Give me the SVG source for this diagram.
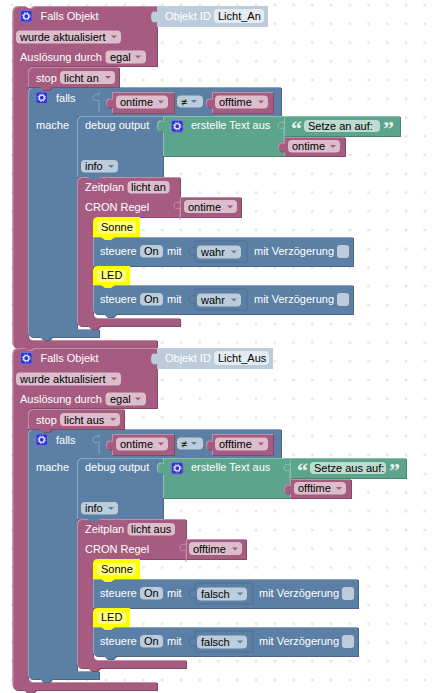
<svg xmlns="http://www.w3.org/2000/svg" xmlns:xlink="http://www.w3.org/1999/xlink" width="435" height="693" viewBox="0 0 435 693">
<style>
text{font-family:"Liberation Sans",Arial,sans-serif;font-size:11px}
.t{fill:#fff}.k{fill:#000}
.p{fill:#a55b80}.b{fill:#5b80a5}.g{fill:#5ba58c}.s{fill:#bdccdb}.y{fill:#ff0}
.fp{fill:#dbbdcc}.fb{fill:#bdccdb}.fg{fill:#bddbd1}.fs{fill:#e4ebf1}.fy{fill:#ffff80}
.sp{filter:url(#dp)}.sb{filter:url(#db)}.sg{filter:url(#dg)}
.ap{fill:#a55b80}.ab{fill:#5b80a5}
.q{font-family:"Liberation Serif",serif;font-size:22px;font-weight:bold;fill:#e4f2ed}
</style>
<defs>
<pattern id="grid" x="12.3" y="5" width="18.75" height="18.75" patternUnits="userSpaceOnUse"><path d="M-1.5 0H1.5M0 -1.5V1.5M17.25 0H20.25M18.75 -1.5V1.5M-1.5 18.75H1.5M0 17.25V20.25M17.25 18.75H20.25M18.75 17.25V20.25" stroke="#ddd" stroke-width="1" fill="none"/></pattern>
<filter id="dp" x="-5%" y="-5%" width="110%" height="110%"><feOffset in="SourceAlpha" dx=".7" dy=".8" result="o"/><feFlood flood-color="#844966"/><feComposite in2="o" operator="in" result="sh"/><feComposite in="SourceAlpha" in2="o" operator="out" result="e"/><feFlood flood-color="#c08fa8"/><feComposite in2="e" operator="in" result="hl"/><feMerge><feMergeNode in="sh"/><feMergeNode in="SourceGraphic"/><feMergeNode in="hl"/></feMerge></filter>
<filter id="db" x="-5%" y="-5%" width="110%" height="110%"><feOffset in="SourceAlpha" dx=".7" dy=".8" result="o"/><feFlood flood-color="#496684"/><feComposite in2="o" operator="in" result="sh"/><feComposite in="SourceAlpha" in2="o" operator="out" result="e"/><feFlood flood-color="#8aa5c0"/><feComposite in2="e" operator="in" result="hl"/><feMerge><feMergeNode in="sh"/><feMergeNode in="SourceGraphic"/><feMergeNode in="hl"/></feMerge></filter>
<filter id="dg" x="-5%" y="-5%" width="110%" height="110%"><feOffset in="SourceAlpha" dx=".7" dy=".8" result="o"/><feFlood flood-color="#498470"/><feComposite in2="o" operator="in" result="sh"/><feComposite in="SourceAlpha" in2="o" operator="out" result="e"/><feFlood flood-color="#8cc0ae"/><feComposite in2="e" operator="in" result="hl"/><feMerge><feMergeNode in="sh"/><feMergeNode in="SourceGraphic"/><feMergeNode in="hl"/></feMerge></filter>
<g id="gear"><rect x="0.5" y="0.5" width="11.5" height="11.5" rx="2" fill="#3333cc" stroke="#6f6fe0"/><circle cx="6.25" cy="6.25" r="2.6" fill="none" stroke="#dfe6f5" stroke-width="1.4"/><circle cx="6.25" cy="6.25" r="3.8" fill="none" stroke="#dfe6f5" stroke-width="0.9" stroke-dasharray="1.5 1.5"/></g>
<path id="ap" class="ap" d="M0 0H6L3 3Z"/>
<path id="ab" class="ab" d="M0 0H6L3 3Z"/>
<path id="tab" d="M6 0V3Q0 1 0 5.5Q0 10 6 8V20" fill="none" stroke-width="1"/>
</defs>
<rect width="435" height="693" fill="#fff"/>
<rect width="435" height="693" fill="url(#grid)"/>
<g id="connectors"></g>

<g id="event-an">
<path class="p sp" d="M12.5 12Q12.5 6 18.5 6H25L28 8H31L34 6H157V66H33Q28 66 28 71V335Q28 340 33 340H157V348H36L33 351H27L24 348H18Q12.5 348 12.5 342Z"/>
<use xlink:href="#gear" href="#gear" x="20" y="10"/>
<text class="t" x="40.5" y="20">Falls Objekt</text>
<rect class="fp" x="16" y="30.5" width="105" height="13" rx="4"/><text class="k" x="20" y="40.500">wurde aktualisiert</text><use href="#ap" x="111" y="35.5"/>
<text class="t" x="20" y="60.5">Auslösung durch</text>
<rect class="fp" x="105.5" y="50.5" width="40.5" height="13" rx="4"/><text class="k" x="110" y="60.5">egal</text><use href="#ap" x="135" y="55.5"/>
</g>
<g id="objekt-an">
<path class="s" d="M157 6H268V27H157V22Q151 24 151 17Q151 10 157 12Z"/>
<text class="t" x="165" y="20">Objekt ID</text>
<rect class="fs" x="214" y="9" width="50" height="14" rx="4"/><text class="k" x="218" y="20">Licht_An</text>
</g>
<g id="falls-an">
<path class="b sb" d="M33 87H281V116H77V329H99V337H52L49 340H43L40 337H33Q28 337 28 332V92Q28 87 33 87Z"/>
<use href="#gear" x="35.5" y="91.5"/>
<text class="t" x="56" y="101.500">falls</text>
<text class="t" x="36" y="129">mache</text>
<use href="#tab" x="93" y="92" stroke="#8aa5c0"/>
</g>
<g id="stop-an">
<path class="p sp" d="M33 67H119V87H52L49 90H43L40 87H28V72Q28 67 33 67Z"/>
<text class="t" x="36" y="81.500">stop</text>
<rect class="fp" x="60" y="71" width="55" height="13" rx="4"/><text class="k" x="64" y="81.5">licht an</text><use href="#ap" x="105" y="76"/>
</g>
<g id="cmp-an">
<path class="p sp" d="M112 92H174V113H112V107Q106 109 106 103Q106 97 112 99Z"/>
<rect class="fp" x="116" y="95.5" width="52" height="13" rx="4"/><text class="k" x="120" y="105.5">ontime</text><use href="#ap" x="158" y="100.5"/>
<rect class="fb" x="177" y="95.5" width="26" height="12" rx="4"/><text class="k" x="181" y="105.5">≠</text><use href="#ab" x="191" y="100"/>
<path class="p sp" d="M212 92H273V113H212V107Q206 109 206 103Q206 97 212 99Z"/>
<rect class="fp" x="215" y="95.5" width="53" height="13" rx="4"/><text class="k" x="219" y="105.5">offtime</text><use href="#ap" x="258" y="100.5"/>
</g>
<g id="debug-an">
<path class="b sb" d="M82 116H163V177H100L97 180H91L88 177H77V121Q77 116 82 116Z"/>
<text class="t" x="85" y="129">debug output</text>
<rect class="fb" x="81" y="160" width="37" height="12.5" rx="4"/><text class="k" x="85" y="170">info</text><use href="#ab" x="108" y="165"/>
</g>
<g id="text-an">
<path class="g sg" d="M163 116H284V156H163V131Q157 133 157 126Q157 119 163 121Z"/>
<use href="#gear" x="171" y="120"/>
<text class="t" x="191" y="129">erstelle Text aus</text>
<use href="#tab" x="278" y="120" stroke="#8cc0ae"/>
</g>
<g id="string-an">
<path class="g sg" d="M284 116H400V136H284Z"/>
<text class="q" x="291" y="136">“</text>
<rect class="fg" x="304" y="120" width="76" height="12" rx="4"/><text class="k" x="308" y="130">Setze an auf:</text>
<text class="q" x="383" y="136">”</text>
</g>
<g id="ontime-an">
<path class="p sp" d="M284 137H345V156H284V151Q278 153 278 147Q278 141 284 143Z"/>
<rect class="fp" x="288" y="140" width="52" height="12.5" rx="4"/><text class="k" x="292" y="150">ontime</text><use href="#ap" x="330" y="145"/>
</g>
<g id="zeitplan-an">
<path class="p sp" d="M82 177H180V217H98Q93 217 93 222V313Q93 318 98 318H180V326H100L97 329H91L88 326H82Q77 326 77 321V182Q77 177 82 177Z"/>
<path class="b" d="M88 177H100L97 180H91Z"/>
<text class="t" x="85" y="190.500">Zeitplan</text>
<rect class="fp" x="127.5" y="181" width="42" height="12.5" rx="4"/><text class="k" x="131" y="190.500">licht an</text>
<text class="t" x="85" y="210.500">CRON Regel</text>
<use href="#tab" x="174" y="200" stroke="#c08fa8"/>
</g>
<g id="cron-an">
<path class="p sp" d="M180 197H241V217H180Z"/>
<rect class="fp" x="184" y="200" width="53" height="13" rx="4"/><text class="k" x="188" y="210.500">ontime</text><use href="#ap" x="227" y="205.5"/>
</g>
<g id="steuere1-an">
<path class="b sb" d="M93 237H353V266H93Z"/>
<text class="t" x="100" y="255">steuere</text>
<rect class="fb" x="140" y="245" width="23" height="12.5" rx="4"/><text class="k" x="144" y="255">On</text>
<text class="t" x="167" y="255">mit</text>
<path d="M195 241H247V262H195V255Q189 257 189 251Q189 246 195 248Z" fill="none" stroke="#4e6f91"/>
<rect class="fb" x="197" y="245.500" width="44" height="13" rx="4"/><text class="k" x="201" y="255.500">wahr</text><use href="#ab" x="231" y="250.500"/>
<text class="t" x="254" y="255">mit Verzögerung</text>
<rect class="fb" x="337" y="245" width="12" height="13" rx="3"/>
</g>
<g id="sonne-an">
<path class="y" d="M98 217H140V237H115L111 240H105L101 237H93V222Q93 217 98 217Z"/>
<rect class="fy" x="97" y="221" width="39" height="12.500" rx="3"/><text class="k" x="101" y="231">Sonne</text>
</g>
<g id="steuere2-an">
<path class="b sb" d="M93 285H353V314H116L113 317H107L104 314H98Q93 314 93 309Z"/>
<text class="t" x="100" y="303">steuere</text>
<rect class="fb" x="140" y="293" width="23" height="12.5" rx="4"/><text class="k" x="144" y="303">On</text>
<text class="t" x="167" y="303">mit</text>
<path d="M195 289H247V310H195V303Q189 305 189 299Q189 294 195 296Z" fill="none" stroke="#4e6f91"/>
<rect class="fb" x="197" y="293.500" width="44" height="13" rx="4"/><text class="k" x="201" y="303.500">wahr</text><use href="#ab" x="231" y="298.500"/>
<text class="t" x="254" y="303">mit Verzögerung</text>
<rect class="fb" x="337" y="293" width="12" height="13" rx="3"/>
</g>
<g id="led-an">
<path class="y" d="M98 266H130V285H115L111 288H105L101 285H93V271Q93 266 98 266Z"/>
<rect class="fy" x="97" y="269.500" width="29" height="12.500" rx="3"/><text class="k" x="101" y="279">LED</text>
</g>

<g transform="translate(0,342)">
<g id="event-aus">
<path class="p sp" d="M12.5 12Q12.5 6 18.5 6H25L28 8H31L34 6H157V66H33Q28 66 28 71V335Q28 340 33 340H157V348H36L33 351H27L24 348H18Q12.5 348 12.5 342Z"/>
<use href="#gear" x="20" y="10"/>
<text class="t" x="40.5" y="20">Falls Objekt</text>
<rect class="fp" x="16" y="30.5" width="105" height="13" rx="4"/><text class="k" x="20" y="40.500">wurde aktualisiert</text><use href="#ap" x="111" y="35.5"/>
<text class="t" x="20" y="60.5">Auslösung durch</text>
<rect class="fp" x="105.5" y="50.5" width="40.5" height="13" rx="4"/><text class="k" x="110" y="60.5">egal</text><use href="#ap" x="135" y="55.5"/>
</g>
<g id="objekt-aus">
<path class="s" d="M157 6H273V27H157V22Q151 24 151 17Q151 10 157 12Z"/>
<text class="t" x="165" y="20">Objekt ID</text>
<rect class="fs" x="214" y="9" width="55" height="14" rx="4"/><text class="k" x="218" y="20">Licht_Aus</text>
</g>
<g id="falls-aus">
<path class="b sb" d="M33 87H281V116H77V329H99V337H52L49 340H43L40 337H33Q28 337 28 332V92Q28 87 33 87Z"/>
<use href="#gear" x="35.5" y="91.5"/>
<text class="t" x="56" y="101.500">falls</text>
<text class="t" x="36" y="129">mache</text>
<use href="#tab" x="93" y="92" stroke="#8aa5c0"/>
</g>
<g id="stop-aus">
<path class="p sp" d="M33 67H124V87H52L49 90H43L40 87H28V72Q28 67 33 67Z"/>
<text class="t" x="36" y="81.500">stop</text>
<rect class="fp" x="60" y="71" width="60" height="13" rx="4"/><text class="k" x="64" y="81.5">licht aus</text><use href="#ap" x="110" y="76"/>
</g>
<g id="cmp-aus">
<path class="p sp" d="M112 92H174V113H112V107Q106 109 106 103Q106 97 112 99Z"/>
<rect class="fp" x="116" y="95.5" width="52" height="13" rx="4"/><text class="k" x="120" y="105.5">ontime</text><use href="#ap" x="158" y="100.5"/>
<rect class="fb" x="177" y="95.5" width="26" height="12" rx="4"/><text class="k" x="181" y="105.5">≠</text><use href="#ab" x="191" y="100"/>
<path class="p sp" d="M212 92H273V113H212V107Q206 109 206 103Q206 97 212 99Z"/>
<rect class="fp" x="215" y="95.5" width="53" height="13" rx="4"/><text class="k" x="219" y="105.5">offtime</text><use href="#ap" x="258" y="100.5"/>
</g>
<g id="debug-aus">
<path class="b sb" d="M82 116H163V177H100L97 180H91L88 177H77V121Q77 116 82 116Z"/>
<text class="t" x="85" y="129">debug output</text>
<rect class="fb" x="81" y="160" width="37" height="12.5" rx="4"/><text class="k" x="85" y="170">info</text><use href="#ab" x="108" y="165"/>
</g>
<g id="text-aus">
<path class="g sg" d="M163 116H290V156H163V131Q157 133 157 126Q157 119 163 121Z"/>
<use href="#gear" x="171" y="120"/>
<text class="t" x="191" y="129">erstelle Text aus</text>
<use href="#tab" x="284" y="120" stroke="#8cc0ae"/>
</g>
<g id="string-aus">
<path class="g sg" d="M290 116H406V136H290Z"/>
<text class="q" x="297" y="136">“</text>
<rect class="fg" x="310" y="120" width="76" height="12" rx="4"/><text class="k" x="314" y="130">Setze aus auf:</text>
<text class="q" x="389" y="136">”</text>
</g>
<g id="offtime-aus">
<path class="p sp" d="M290 137H351V156H290V151Q284 153 284 147Q284 141 290 143Z"/>
<rect class="fp" x="294" y="140" width="52" height="12.5" rx="4"/><text class="k" x="298" y="150">offtime</text><use href="#ap" x="336" y="145"/>
</g>
<g id="zeitplan-aus">
<path class="p sp" d="M82 177H186V217H98Q93 217 93 222V313Q93 318 98 318H186V326H100L97 329H91L88 326H82Q77 326 77 321V182Q77 177 82 177Z"/>
<path class="b" d="M88 177H100L97 180H91Z"/>
<text class="t" x="85" y="190.500">Zeitplan</text>
<rect class="fp" x="127.5" y="181" width="47.500" height="12.5" rx="4"/><text class="k" x="131" y="190.500">licht aus</text>
<text class="t" x="85" y="210.500">CRON Regel</text>
<use href="#tab" x="180" y="200" stroke="#c08fa8"/>
</g>
<g id="cron-aus">
<path class="p sp" d="M186 197H246V217H186Z"/>
<rect class="fp" x="189" y="200" width="53" height="13" rx="4"/><text class="k" x="193" y="210.500">offtime</text><use href="#ap" x="232" y="205.5"/>
</g>
<g id="steuere1-aus">
<path class="b sb" d="M93 237H358V266H93Z"/>
<text class="t" x="100" y="255">steuere</text>
<rect class="fb" x="140" y="245" width="23" height="12.5" rx="4"/><text class="k" x="144" y="255">On</text>
<text class="t" x="167" y="255">mit</text>
<path d="M195 241H253V262H195V255Q189 257 189 251Q189 246 195 248Z" fill="none" stroke="#4e6f91"/>
<rect class="fb" x="197" y="245.500" width="50" height="13" rx="4"/><text class="k" x="201" y="255.500">falsch</text><use href="#ab" x="237" y="250.500"/>
<text class="t" x="259" y="255">mit Verzögerung</text>
<rect class="fb" x="342" y="245" width="12" height="13" rx="3"/>
</g>
<g id="sonne-aus">
<path class="y" d="M98 217H140V237H115L111 240H105L101 237H93V222Q93 217 98 217Z"/>
<rect class="fy" x="97" y="221" width="39" height="12.500" rx="3"/><text class="k" x="101" y="231">Sonne</text>
</g>
<g id="steuere2-aus">
<path class="b sb" d="M93 285H358V314H116L113 317H107L104 314H98Q93 314 93 309Z"/>
<text class="t" x="100" y="303">steuere</text>
<rect class="fb" x="140" y="293" width="23" height="12.5" rx="4"/><text class="k" x="144" y="303">On</text>
<text class="t" x="167" y="303">mit</text>
<path d="M195 289H253V310H195V303Q189 305 189 299Q189 294 195 296Z" fill="none" stroke="#4e6f91"/>
<rect class="fb" x="197" y="293.500" width="50" height="13" rx="4"/><text class="k" x="201" y="303.500">falsch</text><use href="#ab" x="237" y="298.500"/>
<text class="t" x="259" y="303">mit Verzögerung</text>
<rect class="fb" x="342" y="293" width="12" height="13" rx="3"/>
</g>
<g id="led-aus">
<path class="y" d="M98 266H130V285H115L111 288H105L101 285H93V271Q93 266 98 266Z"/>
<rect class="fy" x="97" y="269.500" width="29" height="12.500" rx="3"/><text class="k" x="101" y="279">LED</text>
</g>
</g>
</svg>
